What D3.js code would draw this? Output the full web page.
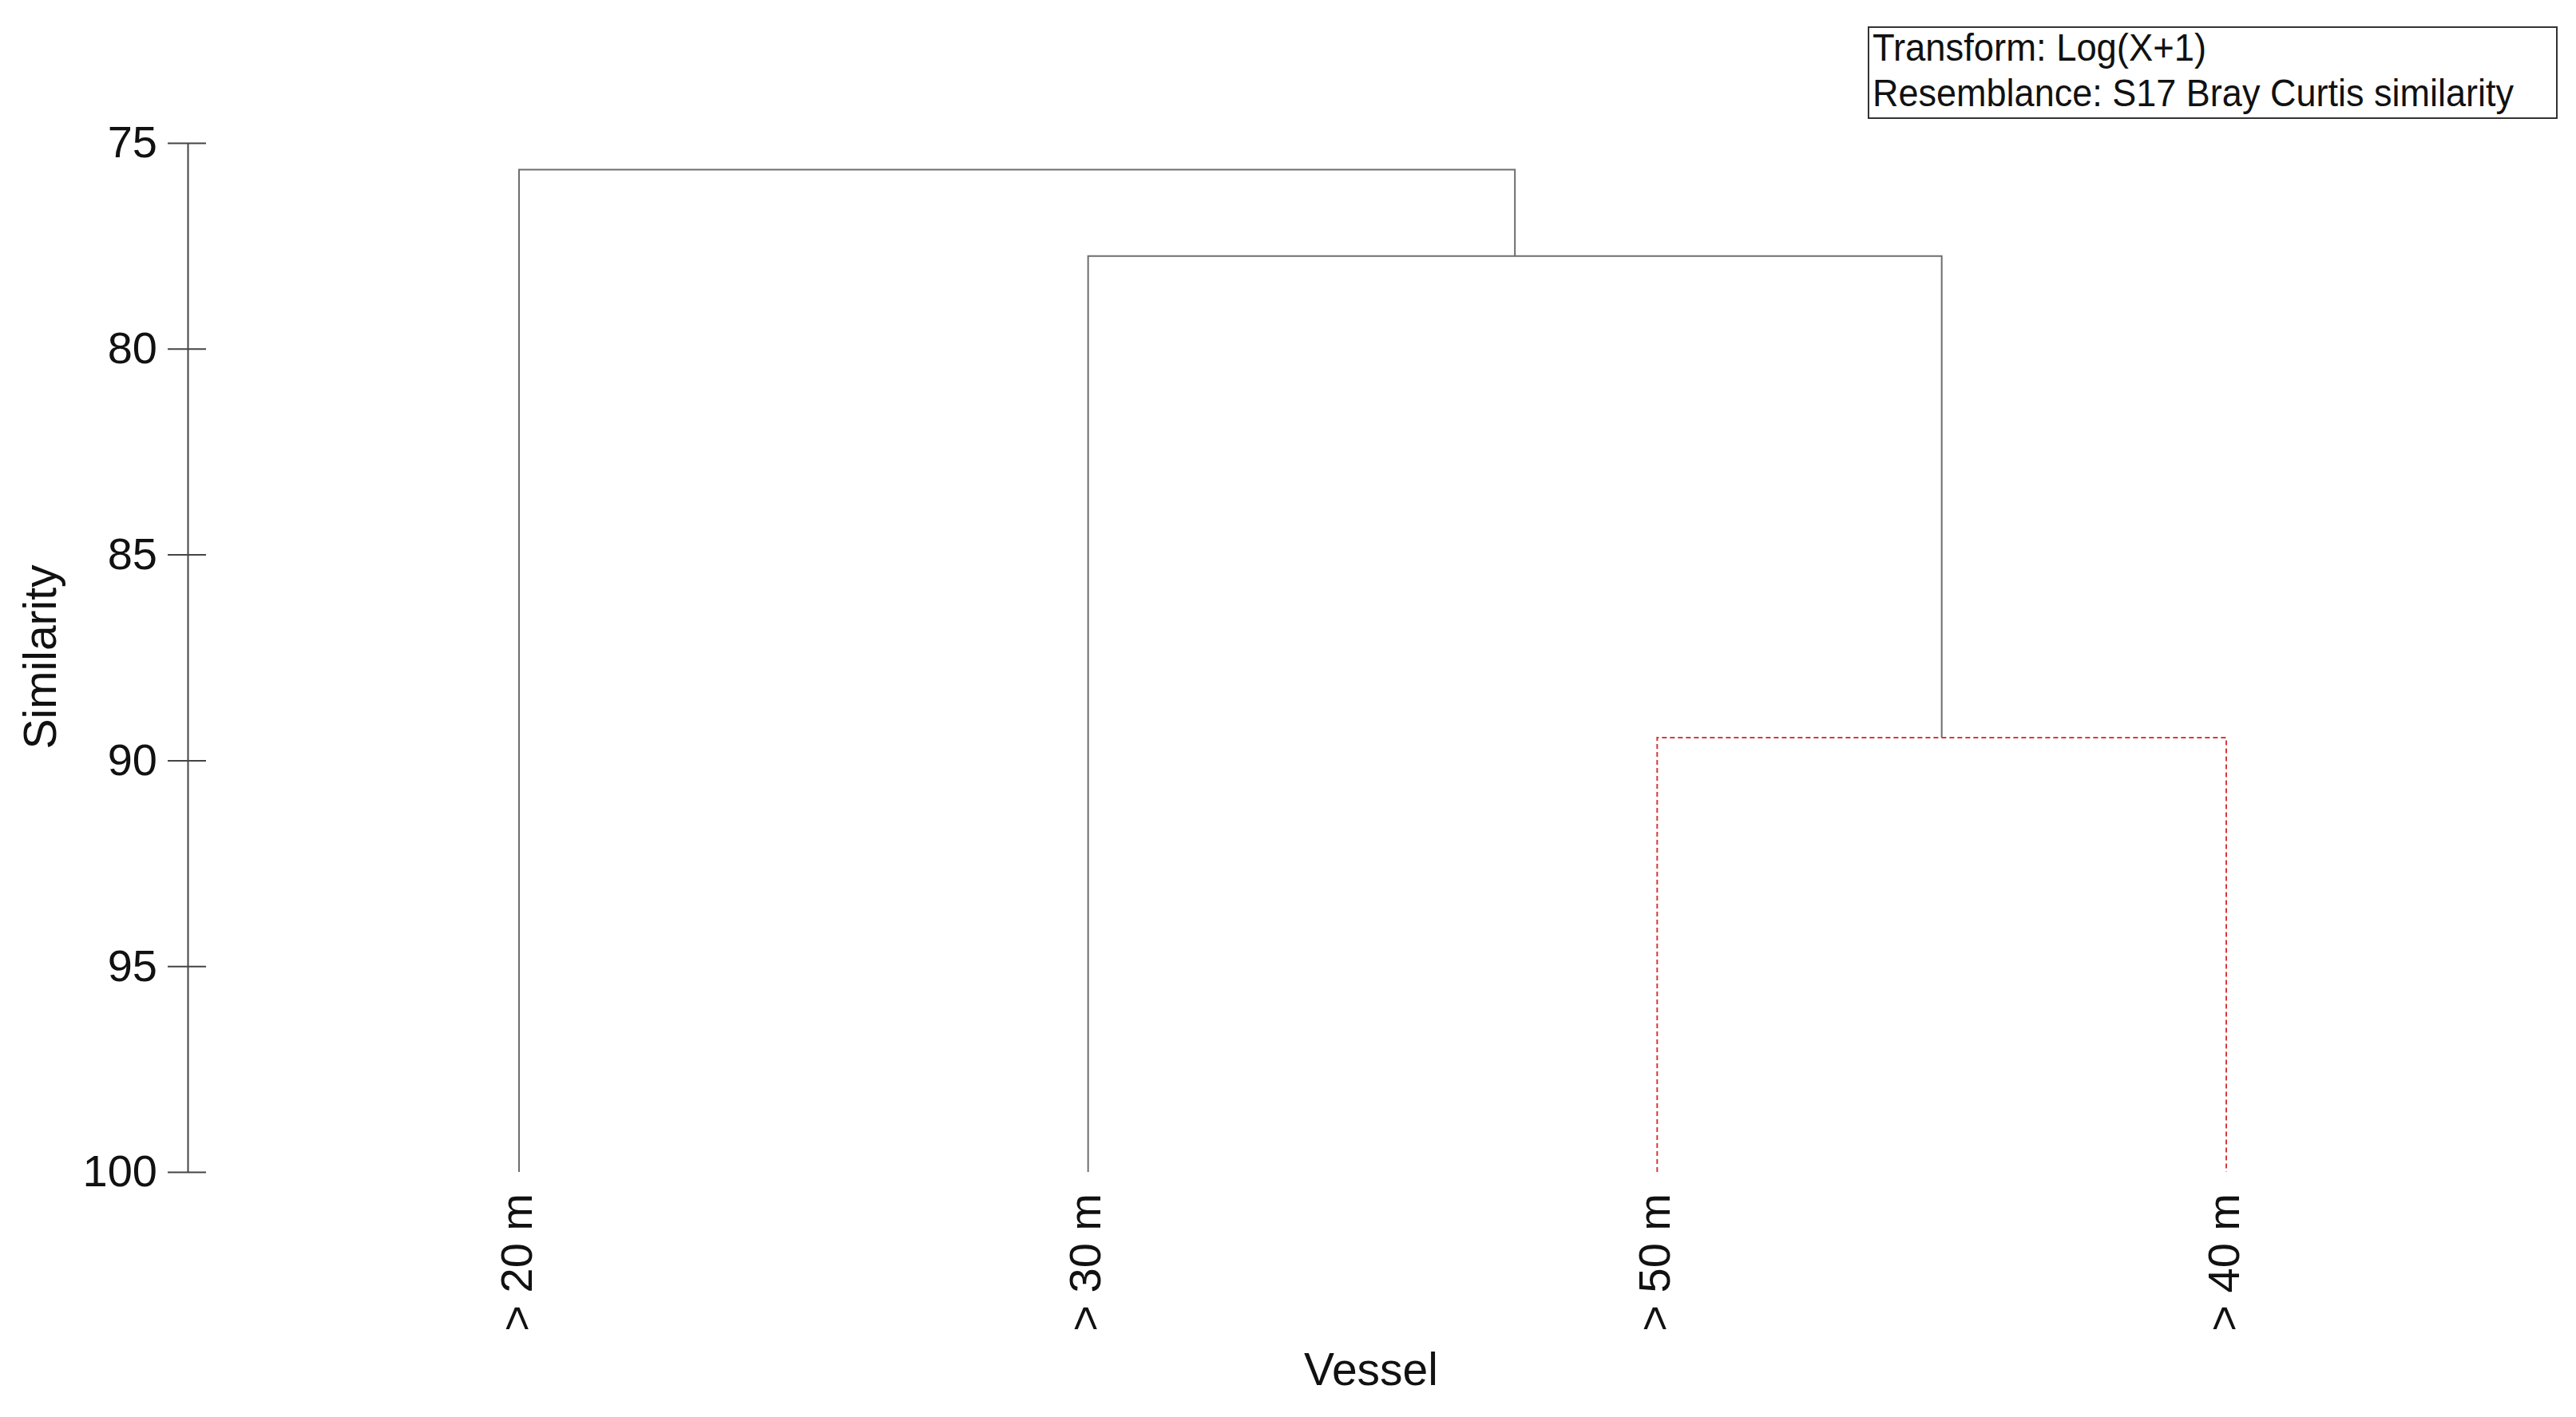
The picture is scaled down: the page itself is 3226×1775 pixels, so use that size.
<!DOCTYPE html>
<html>
<head>
<meta charset="utf-8">
<script src="https://cdn.jsdelivr.net/npm/d3@7/dist/d3.min.js"></script>
<style>
  html, body { margin: 0; padding: 0; background: #fff; }
  svg { display: block; font-family: "Liberation Sans", Arial, sans-serif; }
</style>
</head>
<body>
<script>
// ---- data ----
const leaves = ["> 20 m", "> 30 m", "> 50 m", "> 40 m"];
const mergeIds = ["n1", "n2", "n3"];
const mergeChildren = [["> 50 m", "> 40 m"], ["> 30 m", "n1"], ["> 20 m", "n2"]];
const mergeSimilarity = [89.45, 77.75, 75.65];
const mergeSignificant = [false, true, true]; // false = red dashed (no significant structure)
const yTicks = [75, 80, 85, 90, 95, 100];
const legendLines = ["Transform: Log(X+1)", "Resemblance: S17 Bray Curtis similarity"];
const xTitle = "Vessel";
const yTitle = "Similarity";

// ---- layout ----
const W = 3226, H = 1775;
const svg = d3.select("body").append("svg").attr("width", W).attr("height", H);

const x = d3.scalePoint().domain(leaves).range([650, 2788]).padding(0);
const y = d3.scaleLinear().domain([75, 100]).range([179, 1468]);

// node positions
const pos = {};
leaves.forEach(l => pos[l] = { x: x(l), s: 100 });
mergeIds.forEach((id, i) => {
  const [a, b] = mergeChildren[i];
  pos[id] = { x: (pos[a].x + pos[b].x) / 2, s: mergeSimilarity[i] };
});

// y axis
const axisX = 235;
const gAxis = svg.append("g").attr("transform", `translate(${axisX},0)`)
  .call(d3.axisLeft(y).tickValues(yTicks).tickSizeInner(25).tickSizeOuter(0).tickPadding(13).tickFormat(d3.format("d")));
gAxis.select(".domain").attr("stroke", "#444").attr("stroke-width", 2);
gAxis.selectAll(".tick line").attr("x1", 23).attr("x2", -25).attr("stroke", "#444").attr("stroke-width", 2);
gAxis.selectAll(".tick text").attr("font-size", 56).attr("fill", "#111")
  .attr("font-family", "'Liberation Sans', Arial, sans-serif");

// dendrogram branches
const gTree = svg.append("g").attr("fill", "none");
mergeIds.forEach((id, i) => {
  const p = pos[id];
  const [a, b] = mergeChildren[i].map(c => pos[c]);
  const path = `M${a.x},${y(a.s)}V${y(p.s)}H${b.x}V${y(b.s)}`;
  const el = gTree.append("path").attr("d", path);
  if (mergeSignificant[i]) {
    el.attr("stroke", "#6e6e6e").attr("stroke-width", 2);
  } else {
    el.attr("stroke", "#d9383a").attr("stroke-width", 2).attr("stroke-dasharray", "6,4");
  }
});

// leaf labels
svg.append("g").selectAll("text").data(leaves).join("text")
  .attr("transform", d => `translate(${x(d)},1495) rotate(-90)`)
  .attr("text-anchor", "end")
  .attr("dy", "0.28em")
  .attr("font-size", 56)
  .attr("fill", "#111")
  .text(d => d);

// axis titles
svg.append("text")
  .attr("x", 1717).attr("y", 1735)
  .attr("text-anchor", "middle")
  .attr("font-size", 57)
  .attr("fill", "#111")
  .text(xTitle);

svg.append("text")
  .attr("transform", "translate(70,823) rotate(-90)")
  .attr("text-anchor", "middle")
  .attr("font-size", 57)
  .attr("fill", "#111")
  .text(yTitle);

// legend box
const lg = svg.append("g");
lg.append("rect").attr("x", 2340).attr("y", 34).attr("width", 862).attr("height", 114)
  .attr("fill", "#fff").attr("stroke", "#333").attr("stroke-width", 2);
const legendLens = [418, 803];
lg.selectAll("text").data(legendLines).join("text")
  .attr("x", 2345)
  .attr("y", (d, i) => 76 + i * 57)
  .attr("font-size", 48)
  .attr("fill", "#111")
  .attr("textLength", (d, i) => legendLens[i])
  .attr("lengthAdjust", "spacingAndGlyphs")
  .text(d => d);
</script>
</body>
</html>
